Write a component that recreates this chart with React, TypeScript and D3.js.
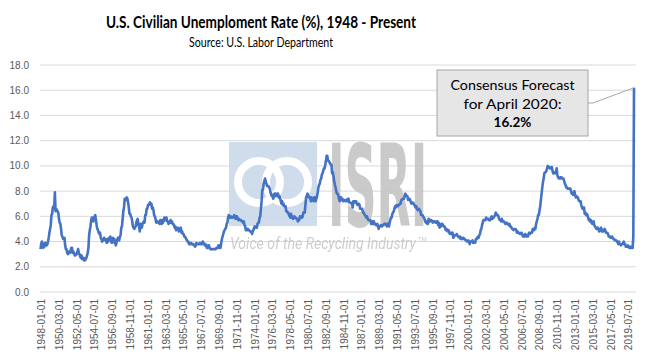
import React from 'react';
import * as d3 from 'd3';

// Monthly civilian unemployment rate (%), read per year, Jan..Dec
const rates1948to1959 = [
  3.4, 3.8, 4.0, 3.9, 3.5, 3.6, 3.6, 3.9, 3.8, 3.7, 3.8, 4.0,
  4.3, 4.7, 5.0, 5.3, 6.1, 6.2, 6.7, 6.8, 6.6, 7.9, 6.4, 6.6,
  6.5, 6.4, 6.3, 5.8, 5.5, 5.4, 5.0, 4.5, 4.4, 4.2, 4.2, 4.3,
  3.7, 3.4, 3.4, 3.1, 3.0, 3.2, 3.1, 3.1, 3.3, 3.5, 3.5, 3.1,
  3.2, 3.1, 2.9, 2.9, 3.0, 3.0, 3.2, 3.4, 3.1, 3.0, 2.8, 2.7,
  2.9, 2.6, 2.6, 2.7, 2.5, 2.5, 2.6, 2.7, 2.9, 3.1, 3.5, 4.5,
  4.9, 5.2, 5.7, 5.9, 5.9, 5.6, 5.8, 6.0, 6.1, 5.7, 5.3, 5.0,
  4.9, 4.7, 4.6, 4.7, 4.3, 4.2, 4.0, 4.2, 4.1, 4.3, 4.2, 4.2,
  4.0, 3.9, 4.2, 4.0, 4.3, 4.3, 4.4, 4.1, 3.9, 3.9, 4.3, 4.2,
  4.2, 3.9, 3.7, 3.9, 4.1, 4.3, 4.2, 4.1, 4.4, 4.5, 5.1, 5.2,
  5.8, 6.4, 6.7, 7.4, 7.4, 7.3, 7.5, 7.4, 7.1, 6.7, 6.2, 6.2,
  6.0, 5.9, 5.6, 5.2, 5.1, 5.0, 5.1, 5.2, 5.5, 5.7, 5.8, 5.3,
];

const rates1960to1971 = [
  5.2, 4.8, 5.4, 5.2, 5.1, 5.4, 5.5, 5.6, 5.5, 6.1, 6.1, 6.6,
  6.6, 6.9, 6.9, 7.0, 7.1, 6.9, 7.0, 6.6, 6.7, 6.5, 6.1, 6.0,
  5.8, 5.5, 5.6, 5.6, 5.5, 5.5, 5.4, 5.7, 5.6, 5.4, 5.7, 5.5,
  5.7, 5.9, 5.7, 5.7, 5.9, 5.6, 5.6, 5.4, 5.5, 5.5, 5.7, 5.5,
  5.6, 5.4, 5.4, 5.3, 5.1, 5.2, 4.9, 5.0, 5.1, 5.1, 4.8, 5.0,
  4.9, 5.1, 4.7, 4.8, 4.6, 4.6, 4.4, 4.4, 4.3, 4.2, 4.1, 4.0,
  4.0, 3.8, 3.8, 3.8, 3.9, 3.8, 3.8, 3.8, 3.7, 3.7, 3.6, 3.8,
  3.9, 3.8, 3.8, 3.8, 3.8, 3.9, 3.8, 3.8, 3.8, 4.0, 3.9, 3.8,
  3.7, 3.8, 3.7, 3.5, 3.5, 3.7, 3.7, 3.5, 3.4, 3.4, 3.4, 3.4,
  3.4, 3.4, 3.4, 3.4, 3.4, 3.5, 3.5, 3.5, 3.7, 3.7, 3.5, 3.5,
  3.9, 4.2, 4.4, 4.6, 4.8, 4.9, 5.0, 5.1, 5.4, 5.5, 5.9, 6.1,
  5.9, 5.9, 6.0, 5.9, 5.9, 5.9, 6.0, 6.1, 6.0, 5.8, 6.0, 6.0,
];

const rates1972to1983 = [
  5.8, 5.7, 5.8, 5.7, 5.7, 5.7, 5.6, 5.6, 5.5, 5.6, 5.3, 5.2,
  4.9, 5.0, 4.9, 5.0, 4.9, 4.9, 4.8, 4.8, 4.8, 4.6, 4.8, 4.9,
  5.1, 5.2, 5.1, 5.1, 5.1, 5.4, 5.5, 5.5, 5.9, 6.0, 6.6, 7.2,
  8.1, 8.1, 8.6, 8.8, 9.0, 8.8, 8.6, 8.4, 8.4, 8.4, 8.3, 8.2,
  7.9, 7.7, 7.6, 7.7, 7.4, 7.6, 7.8, 7.8, 7.6, 7.7, 7.8, 7.8,
  7.5, 7.6, 7.4, 7.2, 7.0, 7.2, 6.9, 7.0, 6.8, 6.8, 6.8, 6.4,
  6.4, 6.3, 6.3, 6.1, 6.0, 5.9, 6.2, 5.9, 6.0, 5.8, 5.9, 6.0,
  5.9, 5.9, 5.8, 5.8, 5.6, 5.7, 5.7, 6.0, 5.9, 6.0, 5.9, 6.0,
  6.3, 6.3, 6.3, 6.9, 7.5, 7.6, 7.8, 7.7, 7.5, 7.5, 7.5, 7.2,
  7.5, 7.4, 7.4, 7.2, 7.5, 7.5, 7.2, 7.4, 7.6, 7.9, 8.3, 8.5,
  8.6, 8.9, 9.0, 9.3, 9.4, 9.6, 9.8, 9.8, 10.1, 10.4, 10.8, 10.8,
  10.4, 10.4, 10.3, 10.2, 10.1, 10.1, 9.4, 9.5, 9.2, 8.8, 8.5, 8.3,
];

const rates1984to1995 = [
  8.0, 7.8, 7.8, 7.7, 7.4, 7.2, 7.5, 7.5, 7.3, 7.4, 7.2, 7.3,
  7.3, 7.2, 7.2, 7.3, 7.2, 7.4, 7.4, 7.1, 7.1, 7.1, 7.0, 7.0,
  6.7, 7.2, 7.2, 7.1, 7.2, 7.2, 7.0, 6.9, 7.0, 7.0, 6.9, 6.6,
  6.6, 6.6, 6.6, 6.3, 6.3, 6.2, 6.1, 6.0, 5.9, 6.0, 5.8, 5.7,
  5.7, 5.7, 5.7, 5.4, 5.6, 5.4, 5.4, 5.6, 5.4, 5.4, 5.3, 5.3,
  5.4, 5.2, 5.0, 5.2, 5.2, 5.3, 5.2, 5.2, 5.3, 5.3, 5.4, 5.4,
  5.4, 5.3, 5.2, 5.4, 5.4, 5.2, 5.5, 5.7, 5.9, 5.9, 6.2, 6.3,
  6.4, 6.6, 6.8, 6.7, 6.9, 6.9, 6.8, 6.9, 6.9, 7.0, 7.0, 7.3,
  7.3, 7.4, 7.4, 7.4, 7.6, 7.8, 7.7, 7.6, 7.6, 7.3, 7.4, 7.4,
  7.3, 7.1, 7.0, 7.1, 7.1, 7.0, 6.9, 6.8, 6.7, 6.8, 6.6, 6.5,
  6.6, 6.6, 6.5, 6.4, 6.1, 6.1, 6.1, 6.0, 5.9, 5.8, 5.6, 5.5,
  5.6, 5.4, 5.4, 5.8, 5.6, 5.6, 5.7, 5.7, 5.6, 5.5, 5.6, 5.6,
];

const rates1996to2007 = [
  5.6, 5.5, 5.5, 5.6, 5.6, 5.3, 5.5, 5.1, 5.2, 5.2, 5.4, 5.4,
  5.3, 5.2, 5.2, 5.1, 4.9, 5.0, 4.9, 4.8, 4.9, 4.7, 4.6, 4.7,
  4.6, 4.6, 4.7, 4.3, 4.4, 4.5, 4.5, 4.5, 4.6, 4.5, 4.4, 4.4,
  4.3, 4.4, 4.2, 4.3, 4.2, 4.3, 4.3, 4.2, 4.2, 4.1, 4.1, 4.0,
  4.0, 4.1, 4.0, 3.8, 4.0, 4.0, 4.0, 4.1, 3.9, 3.9, 3.9, 3.9,
  4.2, 4.2, 4.3, 4.4, 4.3, 4.5, 4.6, 4.9, 5.0, 5.3, 5.5, 5.7,
  5.7, 5.7, 5.7, 5.9, 5.8, 5.8, 5.8, 5.7, 5.7, 5.7, 5.9, 6.0,
  5.8, 5.9, 5.9, 6.0, 6.1, 6.3, 6.2, 6.1, 6.1, 6.0, 5.8, 5.7,
  5.7, 5.6, 5.8, 5.6, 5.6, 5.6, 5.5, 5.4, 5.4, 5.5, 5.4, 5.4,
  5.3, 5.4, 5.2, 5.2, 5.1, 5.0, 5.0, 4.9, 5.0, 5.0, 5.0, 4.9,
  4.7, 4.8, 4.7, 4.7, 4.6, 4.6, 4.7, 4.7, 4.5, 4.4, 4.5, 4.4,
  4.6, 4.5, 4.4, 4.5, 4.4, 4.6, 4.7, 4.6, 4.7, 4.7, 4.7, 5.0,
];

const rates2008to2020 = [
  5.0, 4.9, 5.1, 5.0, 5.4, 5.6, 5.8, 6.1, 6.1, 6.5, 6.8, 7.3,
  7.8, 8.3, 8.7, 9.0, 9.4, 9.5, 9.5, 9.6, 9.8, 10.0, 9.9, 9.9,
  9.8, 9.8, 9.9, 9.9, 9.6, 9.4, 9.4, 9.5, 9.5, 9.4, 9.8, 9.3,
  9.1, 9.0, 9.0, 9.1, 9.0, 9.1, 9.0, 9.0, 9.0, 8.8, 8.6, 8.5,
  8.3, 8.3, 8.2, 8.2, 8.2, 8.2, 8.2, 8.0, 7.8, 7.8, 7.7, 7.9,
  8.0, 7.7, 7.5, 7.6, 7.5, 7.5, 7.3, 7.2, 7.2, 7.2, 6.9, 6.7,
  6.6, 6.7, 6.7, 6.2, 6.3, 6.1, 6.2, 6.1, 5.9, 5.7, 5.8, 5.6,
  5.7, 5.5, 5.4, 5.4, 5.6, 5.3, 5.2, 5.1, 5.0, 5.0, 5.1, 5.0,
  4.8, 4.9, 5.0, 5.1, 4.8, 4.9, 4.8, 4.9, 5.0, 4.9, 4.7, 4.7,
  4.7, 4.6, 4.4, 4.4, 4.4, 4.3, 4.3, 4.4, 4.3, 4.2, 4.2, 4.1,
  4.1, 4.1, 4.0, 4.0, 3.8, 4.0, 3.8, 3.8, 3.7, 3.8, 3.8, 3.9,
  4.0, 3.8, 3.8, 3.6, 3.6, 3.6, 3.7, 3.6, 3.5, 3.6, 3.5, 3.5,
  3.6, 3.5, 4.4, 16.2,
];

const firstYear = 1948;
const yTicks = [0, 2, 4, 6, 8, 10, 12, 14, 16, 18];
const labelEvery = 26; // one category label every 26 months
const titleText = 'U.S. Civilian Unemploment Rate (%), 1948 - Present';
const subtitleText = 'Source: U.S. Labor Department';
const calloutLines = ['Consensus Forecast', 'for April 2020:'];
const calloutValue = '16.2%';

const values = [
  ...rates1948to1959,
  ...rates1960to1971,
  ...rates1972to1983,
  ...rates1984to1995,
  ...rates1996to2007,
  ...rates2008to2020,
];

const pad = (n: number) => (n < 10 ? '0' + n : '' + n);
const dates = values.map((_, i) => {
  const y = firstYear + Math.floor(i / 12);
  return `${y}-${pad((i % 12) + 1)}-01`;
});
const data = values.map((v, i) => ({ date: dates[i], value: v }));

const W = 650;
const H = 362;
const plot = { left: 40, right: 636, top: 65, bottom: 292 };
const font = 'Lato, "Liberation Sans", sans-serif';

export default function App() {
  const x = d3
    .scalePoint<string>()
    .domain(dates)
    .range([plot.left + 0.5, plot.right - 2]);
  const y = d3.scaleLinear().domain([0, 18]).range([plot.bottom, plot.top]);

  const line = d3
    .line<{ date: string; value: number }>()
    .x(d => x(d.date) as number)
    .y(d => y(d.value));

  const labelDates = dates.filter((_, i) => i % labelEvery === 0);
  const last = data[data.length - 1];
  const lastX = x(last.date) as number;
  const lastY = y(last.value);

  const box = { x: 437, y: 70, w: 151, h: 66 };
  const boxMidX = box.x + box.w / 2;

  return (
    <svg
      width={W}
      height={H}
      style={{ position: 'fixed', left: 0, top: 0, background: '#fff' }}
    >
      <rect width={W} height={H} fill="#fff" />

      <text x={261} y={28} textAnchor="middle" fontFamily={font} fontWeight="bold"
        fontSize={17} fill="#000" textLength={310} lengthAdjust="spacingAndGlyphs">
        {titleText}
      </text>
      <text x={261} y={47} textAnchor="middle" fontFamily={font} fontSize={12.5}
        fill="#000" textLength={144} lengthAdjust="spacingAndGlyphs">
        {subtitleText}
      </text>

      {/* gridlines and y labels */}
      {yTicks.map(t => (
        <g key={t}>
          <line x1={plot.left} x2={plot.right} y1={y(t)} y2={y(t)} stroke="#d9d9d9" strokeWidth={1} />
          <text x={29} y={y(t)} dy="0.35em" textAnchor="end" fontFamily='"Liberation Sans", Arial, sans-serif'
            fontSize={10} fill="#595959">
            {t.toFixed(1)}
          </text>
        </g>
      ))}

      {/* watermark */}
      <g opacity={0.9}>
        <rect x={229} y={142} width={88} height={84} fill="#c9d8ea" />
        <circle cx={259} cy={182} r={21} fill="none" stroke="#fff" strokeWidth={8} />
        <circle cx={287} cy={182} r={21} fill="none" stroke="#fff" strokeWidth={8} />
        <text transform="translate(328,226) scale(1,2.55)" fontFamily='"DejaVu Sans", sans-serif'
          fontWeight="bold" fontSize={44.5} fill="#c4c4c4">
          ISRI
        </text>
        <text x={230} y={249} fontFamily='Roboto, sans-serif' fontStyle="italic" fontSize={16}
          fill="#c8c8c8">
          <tspan textLength={186} lengthAdjust="spacingAndGlyphs">Voice of the Recycling Industry</tspan>
          <tspan dx={2} dy={-8} fontSize={6} fontStyle="normal">TM</tspan>
        </text>
      </g>

      <path d={line(data) ?? ''} fill="none" stroke="#4472c4" strokeWidth={2.6} strokeLinejoin="round" />

      {/* x labels */}
      {labelDates.map(d => (
        <text key={d} transform={`translate(${(x(d) as number) + 1},299) rotate(-90)`} dy="0.35em"
          textAnchor="end" fontFamily='"Liberation Sans", Arial, sans-serif' fontSize={10} fill="#595959">
          {d}
        </text>
      ))}

      {/* callout */}
      <polyline
        points={`${box.x + box.w},${box.y + 33} ${box.x + box.w + 5},${box.y + 33} ${lastX},${lastY}`}
        fill="none" stroke="#a6a6a6" strokeWidth={1} />
      <rect x={box.x} y={box.y} width={box.w} height={box.h} fill="#e7e6e6" stroke="#a6a6a6" strokeWidth={1} />
      {calloutLines.map((l, i) => (
        <text key={l} x={boxMidX} y={box.y + 20 + i * 18.5} textAnchor="middle" fontFamily={font}
          fontSize={13.5} fill="#000" textLength={i === 0 ? 124 : 98} lengthAdjust="spacingAndGlyphs">
          {l}
        </text>
      ))}
      <text x={boxMidX} y={box.y + 57} textAnchor="middle" fontFamily={font} fontWeight="bold"
        fontSize={13.5} fill="#000">
        {calloutValue}
      </text>
    </svg>
  );
}
